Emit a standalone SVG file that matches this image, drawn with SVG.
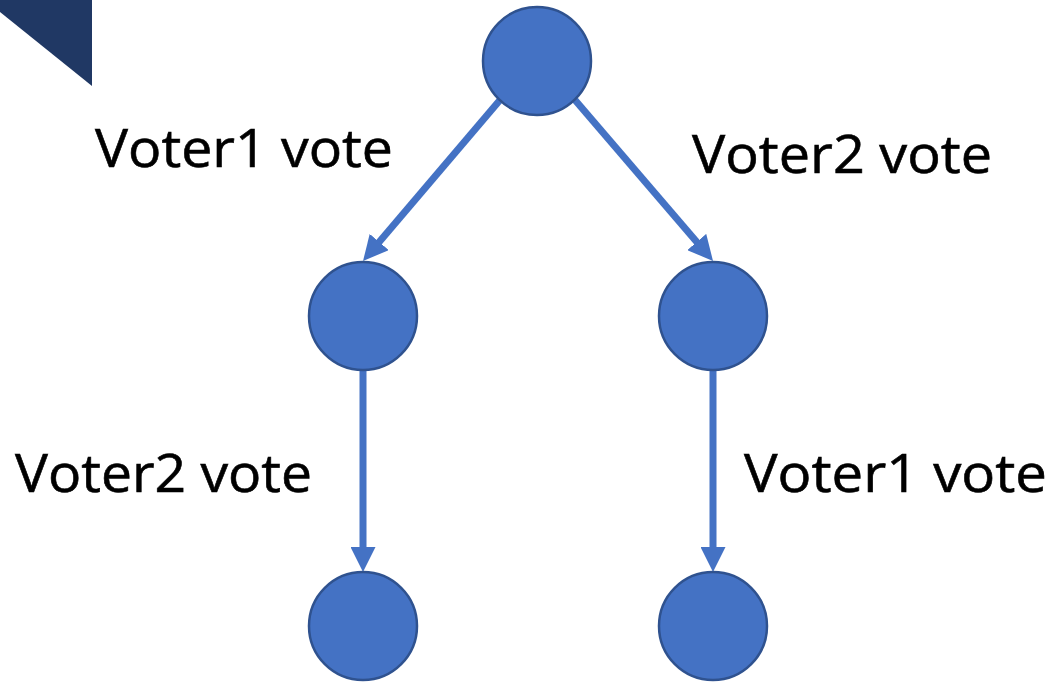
<svg xmlns="http://www.w3.org/2000/svg" width="1056" height="682" viewBox="0 0 1056 682">
<style>
.node{fill:#4472C4;stroke:#2F528F;stroke-width:2.5}
.edge{stroke:#4472C4;stroke-width:7;fill:none}
.lbl{font-family:"Open Sans","Liberation Sans",sans-serif;font-size:53px;fill:#000;stroke:#000;stroke-width:0.6}
</style>
<defs>
<marker id="arr" viewBox="0 0 10 10" refX="2" refY="5" markerUnits="userSpaceOnUse" markerWidth="25" markerHeight="25" orient="auto">
<path d="M0,0 L10,5 L0,10 Z" fill="#4472C4"/>
</marker>
</defs>
<polygon points="0,0 92,0 92,86 0,12" fill="#203864"/>
<g id="connectors">
<line class="edge" x1="500" y1="100" x2="376" y2="245.8" marker-end="url(#arr)"/>
<line class="edge" x1="575" y1="100" x2="700" y2="245.8" marker-end="url(#arr)"/>
<line class="edge" x1="363" y1="370" x2="363" y2="552" marker-end="url(#arr)"/>
<line class="edge" x1="713" y1="370" x2="713" y2="552" marker-end="url(#arr)"/>
</g>
<g id="root"><circle class="node" cx="537" cy="61" r="54"/></g>
<g id="mid-left"><circle class="node" cx="363" cy="316" r="54"/></g>
<g id="mid-right"><circle class="node" cx="713" cy="316" r="54"/></g>
<g id="bottom-left"><circle class="node" cx="363" cy="626" r="54"/></g>
<g id="bottom-right"><circle class="node" cx="713" cy="626" r="54"/></g>
<g id="labels">
<text class="lbl" x="95" y="167" textLength="298" lengthAdjust="spacingAndGlyphs">Voter1 vote</text>
<text class="lbl" x="692" y="173" textLength="300" lengthAdjust="spacingAndGlyphs">Voter2 vote</text>
<text class="lbl" x="15" y="492" textLength="297" lengthAdjust="spacingAndGlyphs">Voter2 vote</text>
<text class="lbl" x="744" y="492" textLength="303" lengthAdjust="spacingAndGlyphs">Voter1 vote</text>
</g>
</svg>
